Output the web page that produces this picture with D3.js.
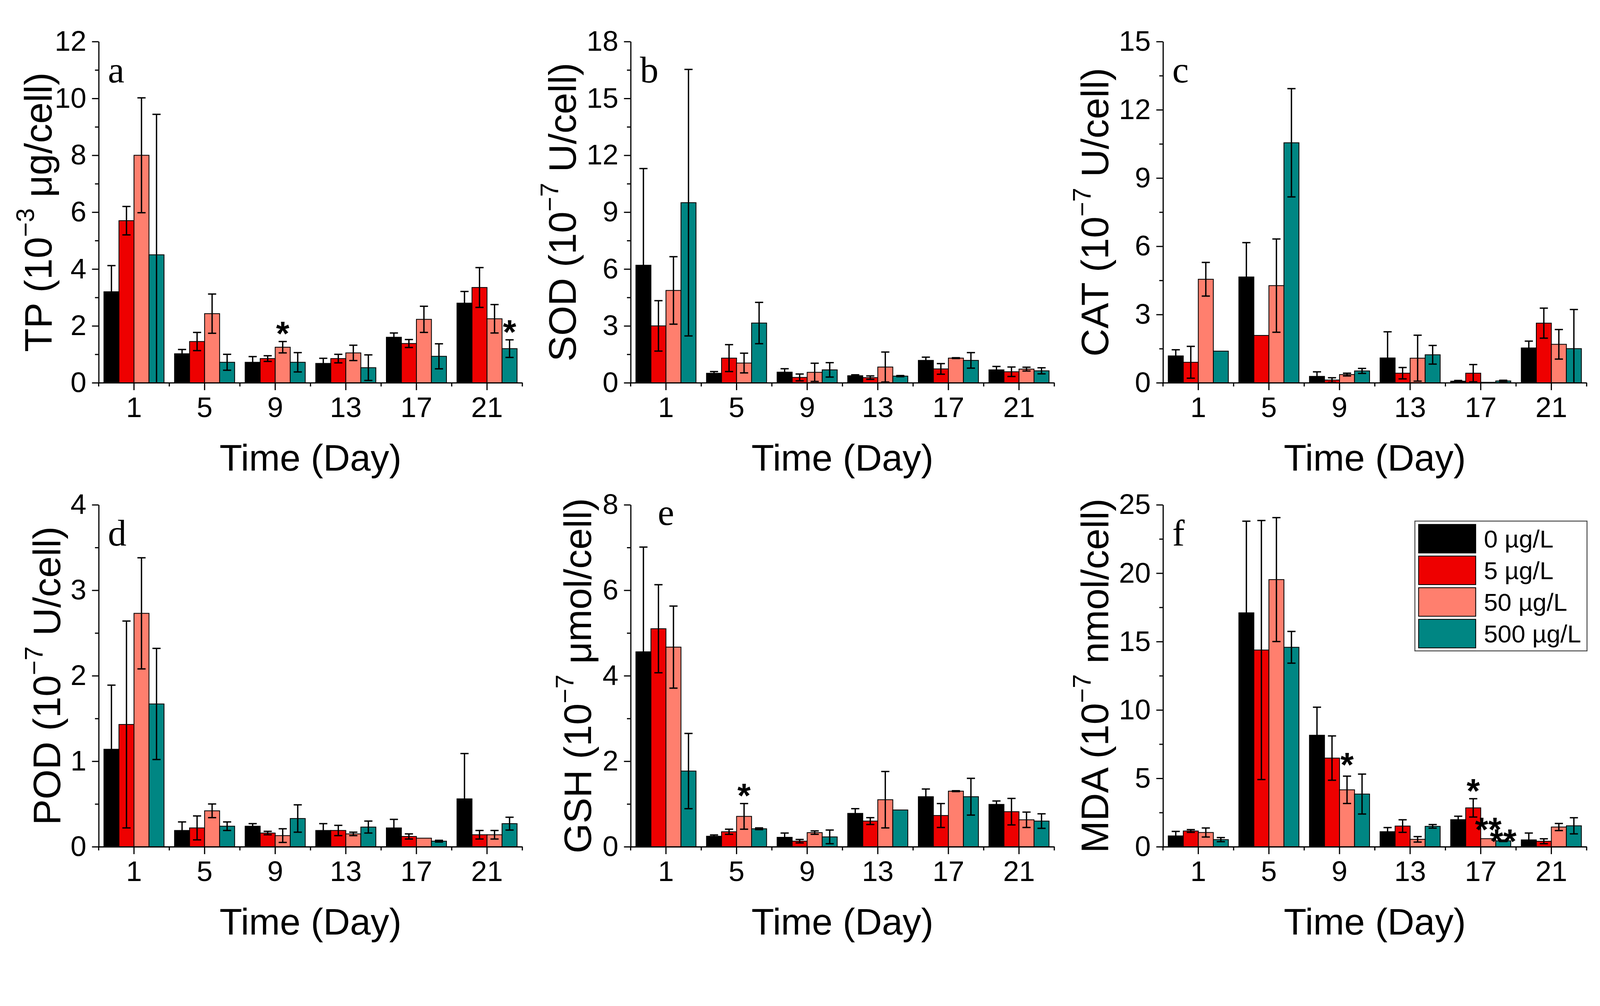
<!DOCTYPE html>
<html><head><meta charset="utf-8">
<script src="https://cdn.jsdelivr.net/npm/d3@7"></script>
<style>html,body{margin:0;padding:0;background:#fff;overflow:hidden;width:100%;height:100%} svg{display:block;width:100vw;height:100vh}</style>
</head><body><svg id="chart" viewBox="0 0 4313 2576" preserveAspectRatio="xMinYMin meet"></svg>
<script>
// ---------- DATA ----------
const days = ["1", "5", "9", "13", "17", "21"];
const seriesNames = ["0 µg/L", "5 µg/L", "50 µg/L", "500 µg/L"];

const tpTicks = [0, 2, 4, 6, 8, 10, 12];
const tpMean = [
  [3.2, 1.02, 0.72, 0.68, 1.6, 2.8],
  [5.7, 1.45, 0.85, 0.85, 1.38, 3.35],
  [8.0, 2.43, 1.25, 1.05, 2.23, 2.25],
  [4.5, 0.72, 0.72, 0.53, 0.93, 1.2]
];
const tpErr = [
  [0.92, 0.15, 0.2, 0.18, 0.15, 0.41],
  [0.5, 0.32, 0.1, 0.15, 0.14, 0.7],
  [2.02, 0.69, 0.2, 0.27, 0.46, 0.5],
  [4.94, 0.28, 0.34, 0.45, 0.44, 0.31]
];

const sodTicks = [0, 3, 6, 9, 12, 15, 18];
const sodMean = [
  [6.2, 0.5, 0.56, 0.37, 1.18, 0.68],
  [3.0, 1.3, 0.28, 0.27, 0.73, 0.58],
  [4.87, 1.04, 0.55, 0.83, 1.3, 0.72],
  [9.5, 3.15, 0.68, 0.35, 1.18, 0.63]
];
const sodErr = [
  [5.1, 0.09, 0.18, 0.05, 0.17, 0.18],
  [1.33, 0.71, 0.18, 0.09, 0.28, 0.25],
  [1.78, 0.52, 0.48, 0.79, 0.02, 0.1],
  [7.03, 1.09, 0.38, 0.03, 0.41, 0.16]
];

const catTicks = [0, 3, 6, 9, 12, 15];
const catMean = [
  [1.18, 4.65, 0.28, 1.09, 0.07, 1.53],
  [0.9, 2.08, 0.12, 0.42, 0.42, 2.62],
  [4.55, 4.27, 0.36, 1.08, 0.02, 1.69],
  [1.39, 10.55, 0.52, 1.23, 0.08, 1.5]
];
const catErr = [
  [0.27, 1.51, 0.2, 1.15, 0.03, 0.3],
  [0.7, 0, 0.1, 0.25, 0.38, 0.66],
  [0.74, 2.05, 0.06, 1.01, 0, 0.65],
  [0, 2.38, 0.11, 0.41, 0.03, 1.72]
];

const podTicks = [0, 1, 2, 3, 4];
const podMean = [
  [1.14, 0.19, 0.24, 0.19, 0.22, 0.56],
  [1.43, 0.22, 0.16, 0.19, 0.12, 0.14],
  [2.73, 0.42, 0.13, 0.15, 0.1, 0.14],
  [1.67, 0.24, 0.33, 0.23, 0.065, 0.27]
];
const podErr = [
  [0.75, 0.1, 0.03, 0.08, 0.1, 0.53],
  [1.21, 0.14, 0.02, 0.06, 0.03, 0.05],
  [0.65, 0.08, 0.08, 0.02, 0, 0.05],
  [0.65, 0.05, 0.16, 0.07, 0.01, 0.075]
];

const gshTicks = [0, 2, 4, 6, 8];
const gshMean = [
  [4.56, 0.245, 0.22, 0.78, 1.17, 0.99],
  [5.1, 0.35, 0.13, 0.6, 0.73, 0.82],
  [4.67, 0.71, 0.33, 1.1, 1.3, 0.63],
  [1.77, 0.42, 0.23, 0.86, 1.17, 0.6]
];
const gshErr = [
  [2.45, 0.03, 0.1, 0.11, 0.18, 0.08],
  [1.03, 0.06, 0.04, 0.08, 0.28, 0.31],
  [0.96, 0.3, 0.04, 0.66, 0.01, 0.18],
  [0.88, 0.02, 0.16, 0, 0.43, 0.17]
];

const mdaTicks = [0, 5, 10, 15, 20, 25];
const mdaMean = [
  [0.79, 17.1, 8.15, 1.1, 1.98, 0.5],
  [1.15, 14.38, 6.48, 1.51, 2.84, 0.4],
  [1.04, 19.53, 4.16, 0.54, 0.59, 1.44],
  [0.52, 14.58, 3.85, 1.49, 0.43, 1.53]
];
const mdaErr = [
  [0.33, 6.7, 2.05, 0.3, 0.25, 0.5],
  [0.1, 9.47, 1.62, 0.46, 0.67, 0.18],
  [0.33, 4.53, 1.0, 0.2, 0, 0.26],
  [0.15, 1.16, 1.46, 0.13, 0.05, 0.59]
];

const starMarks = [
  {panel: "a", day: "9", series: 2, text: "*"},
  {panel: "a", day: "21", series: 3, text: "*"},
  {panel: "e", day: "5", series: 2, text: "*"},
  {panel: "f", day: "9", series: 2, text: "*"},
  {panel: "f", day: "17", series: 1, text: "*"},
  {panel: "f", day: "17", series: 2, text: "**"},
  {panel: "f", day: "17", series: 3, text: "**"}
];

// ---------- LAYOUT / STYLE ----------
const W = 4313, H = 2576;
const colors = ["#000000", "#ee0000", "#ff7f6e", "#008683"];
const colX = [266, 1700, 3135];
const colW = 1142;
const rowY = [[112, 1032], [1361, 2283]];
const SANS = "'Liberation Sans', Arial, sans-serif";
const SERIF = "'Liberation Serif', 'Times New Roman', serif";

const panels = [
  {id: "a", mean: tpMean, err: tpErr, ticks: tpTicks, col: 0, row: 0, title: ["TP (10", "−3", " μg/cell)"], titleGap: 127, lx: 25, ly: 110},
  {id: "b", mean: sodMean, err: sodErr, ticks: sodTicks, col: 1, row: 0, title: ["SOD (10", "−7", " U/cell)"], titleGap: 148, lx: 25, ly: 110},
  {id: "c", mean: catMean, err: catErr, ticks: catTicks, col: 2, row: 0, title: ["CAT (10", "−7", " U/cell)"], titleGap: 148, lx: 25, ly: 110},
  {id: "d", mean: podMean, err: podErr, ticks: podTicks, col: 0, row: 1, title: ["POD (10", "−7", " U/cell)"], titleGap: 104, lx: 25, ly: 110},
  {id: "e", mean: gshMean, err: gshErr, ticks: gshTicks, col: 1, row: 1, title: ["GSH (10", "−7", " μmol/cell)"], titleGap: 107, lx: 73, ly: 54},
  {id: "f", mean: mdaMean, err: mdaErr, ticks: mdaTicks, col: 2, row: 1, title: ["MDA (10", "−7", " nmol/cell)"], titleGap: 148, lx: 25, ly: 110, legend: true}
];
const starLift = {"f-17-2": 30, "f-17-3": 3, "f-9-2": 36};

const svg = d3.select("#chart");
svg.append("rect").attr("width", W).attr("height", H).attr("fill", "#fff");

panels.forEach(p => {
  const top = rowY[p.row][0], bottom = rowY[p.row][1];
  const h = bottom - top;
  const g = svg.append("g").attr("transform", `translate(${colX[p.col]},${top})`);
  const x = d3.scaleBand().domain(days).range([0, colW]).padding(0);
  const xs = d3.scaleBand().domain(d3.range(seriesNames.length)).range([0, x.bandwidth()])
    .paddingInner(0).paddingOuter(0.35);
  const yMax = p.ticks[p.ticks.length - 1];
  const y = d3.scaleLinear().domain([0, yMax]).range([h, 0]);

  // bars
  p.mean.forEach((vals, si) => {
    const rows = vals.map((v, di) => ({v, e: p.err[si][di], day: days[di]}));
    g.append("g").selectAll("rect").data(rows).join("rect")
      .attr("x", d => x(d.day) + xs(si))
      .attr("y", d => y(d.v))
      .attr("width", xs.bandwidth())
      .attr("height", d => h - y(d.v))
      .attr("fill", colors[si])
      .attr("stroke", "#000").attr("stroke-width", 2.2);
  });
  // error bars
  const cap = 11;
  p.mean.forEach((vals, si) => {
    const eg = g.append("g").attr("stroke", "#000").attr("stroke-width", 3.6).attr("fill", "none");
    vals.forEach((v, di) => {
      const e = p.err[si][di];
      if (!e) return;
      const cx = x(days[di]) + xs(si) + xs.bandwidth() / 2;
      const hi = v + e, lo = Math.max(0, v - e);
      eg.append("line").attr("x1", cx).attr("x2", cx).attr("y1", y(hi)).attr("y2", y(lo));
      eg.append("line").attr("x1", cx - cap).attr("x2", cx + cap).attr("y1", y(hi)).attr("y2", y(hi));
      if (v - e > 0) eg.append("line").attr("x1", cx - cap).attr("x2", cx + cap).attr("y1", y(lo)).attr("y2", y(lo));
    });
  });

  // y axis
  const yAxis = g.append("g").call(d3.axisLeft(y).tickValues(p.ticks).tickFormat(d => String(d))
    .tickSize(18).tickSizeOuter(0).tickPadding(15));
  yAxis.select(".domain").attr("stroke-width", 3.2);
  yAxis.selectAll(".tick line").attr("stroke-width", 3.2);
  yAxis.selectAll(".tick text").attr("font-family", SANS).attr("font-size", 77).attr("fill", "#000");
  const step = p.ticks[1] - p.ticks[0];
  const minor = p.ticks.slice(0, -1).map(t => t + step / 2);
  const yMinor = g.append("g").call(d3.axisLeft(y).tickValues(minor).tickSize(10).tickFormat(""));
  yMinor.select(".domain").remove();
  yMinor.selectAll(".tick line").attr("stroke-width", 3.2);

  // x axis
  const xAxis = g.append("g").attr("transform", `translate(0,${h})`)
    .call(d3.axisBottom(x).tickSize(20).tickSizeOuter(0).tickPadding(18));
  xAxis.select(".domain").attr("stroke-width", 3.2);
  xAxis.selectAll(".tick line").attr("stroke-width", 3.2);
  xAxis.selectAll(".tick text").attr("font-family", SANS).attr("font-size", 77).attr("fill", "#000");
  const bounds = days.map(d => x(d)).concat([x(days[days.length - 1]) + x.bandwidth()]);
  g.append("g").selectAll("line").data(bounds).join("line")
    .attr("x1", d => d).attr("x2", d => d).attr("y1", h).attr("y2", h + 10)
    .attr("stroke", "#000").attr("stroke-width", 3.2);

  // axis titles
  const yt = g.append("text")
    .attr("transform", `translate(${-p.titleGap},${h / 2}) rotate(-90)`)
    .attr("text-anchor", "middle").attr("font-family", SANS).attr("font-size", 104).attr("fill", "#000");
  yt.append("tspan").text(p.title[0]);
  yt.append("tspan").attr("font-size", 68).attr("dy", -47).text(p.title[1]);
  yt.append("tspan").attr("dy", 47).text(p.title[2]);

  g.append("text").attr("x", colW / 2).attr("y", h + 237)
    .attr("text-anchor", "middle").attr("font-family", SANS).attr("font-size", 100).attr("fill", "#000")
    .text("Time (Day)");

  // panel letter
  g.append("text").attr("x", p.lx).attr("y", p.ly)
    .attr("font-family", SERIF).attr("font-size", 100).attr("fill", "#000").text(p.id);

  // significance stars
  starMarks.filter(s => s.panel === p.id).forEach(s => {
    const di = days.indexOf(s.day);
    const v = p.mean[s.series][di], e = p.err[s.series][di];
    const cx = x(s.day) + xs(s.series) + xs.bandwidth() / 2;
    const lift = starLift[`${s.panel}-${s.day}-${s.series}`] ?? 27;
    g.append("text").attr("x", cx).attr("y", y(v + e) - lift + 37)
      .attr("text-anchor", "middle").attr("font-family", SANS).attr("font-weight", "bold")
      .attr("font-size", 92).attr("fill", "#000").text(s.text);
  });

  // legend
  if (p.legend) {
    const lg = g.append("g").attr("transform", "translate(679,44)");
    lg.append("rect").attr("width", 464).attr("height", 350).attr("fill", "#fff")
      .attr("stroke", "#444").attr("stroke-width", 2.5);
    seriesNames.forEach((name, i) => {
      lg.append("rect").attr("x", 10).attr("y", 9 + i * 85.3).attr("width", 154).attr("height", 77)
        .attr("fill", colors[i]).attr("stroke", "#000").attr("stroke-width", 2.2);
      lg.append("text").attr("x", 186).attr("y", 9 + i * 85.3 + 38.5 + 24)
        .attr("font-family", SANS).attr("font-size", 67).attr("fill", "#000").text(name);
    });
  }
});
</script>
</body></html>
